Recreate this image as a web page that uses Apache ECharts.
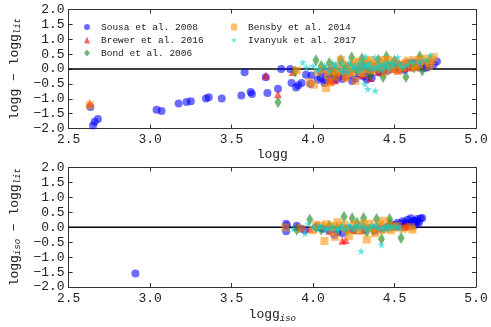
<!DOCTYPE html>
<html>
<head>
<meta charset="utf-8">
<script src="https://cdn.jsdelivr.net/npm/echarts@6/dist/echarts.min.js"></script>
<style>
  html, body { margin: 0; padding: 0; background: #fff; }
  #chart { width: 491px; height: 327px; }
</style>
</head>
<body>
<div id="chart"></div>
<script>
// [logg, logg - logg_lit]
const sousaTop = [[2.634,-1.28],[2.65,-1.90],[2.66,-1.77],[2.68,-1.68],[3.04,-1.37],[3.07,-1.41],[3.175,-1.16],[3.224,-1.11],[3.25,-1.08],[3.343,-0.99],[3.36,-0.95],[3.44,-0.99],[3.56,-0.89],[3.58,-0.11],[3.617,-0.77],[3.625,-0.84],[3.71,-0.28],[3.72,-0.81],[3.785,-0.66],[3.805,0.0],[3.86,0.0],[3.868,-0.47],[3.896,-0.62],[3.91,-0.55],[3.93,-0.47],[3.957,-0.19],[3.985,-0.5],[3.99,-0.22],[4.03,-0.36],[4.046,-0.29],[4.07,-0.47],[4.075,-0.36],[4.11,-0.29],[4.13,-0.25],[4.14,-0.35],[4.16,-0.25],[4.18,-0.34],[4.22,-0.2],[4.26,-0.33],[4.28,-0.15],[4.31,-0.25],[4.33,-0.1],[4.36,-0.3],[4.38,0.02],[4.41,-0.12],[4.44,0.05],[4.46,-0.05],[4.49,0.1],[4.52,0.15],[4.555,0.11],[4.58,0.2],[4.605,0.2],[4.63,0.22],[4.65,0.05],[4.67,0.18],[4.7,0.14],[4.72,0.2],[4.76,0.25],[4.05,-0.1],[4.12,-0.05],[4.2,0.0],[4.3,0.05],[4.4,-0.05],[4.5,0.05],[4.56,-0.03],[4.68,0.03],[4.24,-0.4],[4.33,-0.35],[4.09,-0.18],[4.19,-0.12],[4.35,-0.18],[4.43,-0.08],[4.53,0.0],[4.6,0.08],[4.64,0.14],[4.7,0.05],[4.74,0.15]];
const brewerTop = [[2.63,-1.15],[3.71,-0.22],[3.785,-0.85],[3.876,-0.1],[4.1,-0.38],[4.11,-0.42],[4.135,-0.38],[4.2,-0.25],[4.3,-0.2],[4.35,-0.3],[4.4,-0.1],[4.49,0.0],[4.56,0.03],[4.6,0.05],[4.25,0.0],[4.43,0.02],[4.16,-0.15],[4.52,-0.05],[4.64,0.1]];
const bondTop = [[3.785,-1.12],[3.89,-0.08],[4.018,0.29],[4.237,0.39],[4.3,0.35],[4.45,0.42],[4.655,0.42],[4.43,-0.27],[4.57,-0.27],[4.67,-0.05],[4.1,0.2],[4.17,0.3],[4.4,0.3],[4.5,0.28],[4.55,0.1],[4.62,0.05],[4.05,0.1],[4.2,0.05],[4.31,0.1],[4.35,-0.2],[4.38,0.05],[4.46,0.12],[4.27,-0.05],[4.13,-0.1]];
const bensbyTop = [[2.63,-1.22],[3.9,-0.05],[3.98,-0.45],[4.006,-0.53],[4.08,-0.64],[4.03,-0.1],[4.06,0.0],[4.09,-0.2],[4.1,-0.45],[4.12,0.1],[4.14,-0.25],[4.15,-0.05],[4.17,0.31],[4.18,0.15],[4.2,-0.3],[4.21,0.05],[4.22,-0.15],[4.25,0.2],[4.26,-0.4],[4.27,0.08],[4.29,-0.1],[4.3,0.2],[4.32,0.0],[4.33,0.25],[4.34,0.15],[4.35,0.3],[4.36,-0.05],[4.38,0.2],[4.4,0.25],[4.42,0.05],[4.44,-0.1],[4.45,0.2],[4.46,0.3],[4.47,0.1],[4.5,0.25],[4.52,-0.05],[4.54,0.15],[4.57,0.2],[4.6,0.1],[4.62,0.3],[4.65,0.15],[4.68,0.25],[4.7,0.35],[4.72,0.2],[4.73,0.3],[4.74,0.4],[4.11,-0.08],[4.16,0.05],[4.19,-0.05],[4.23,0.1],[4.24,-0.1],[4.28,0.25],[4.31,-0.15],[4.37,0.1],[4.39,-0.02],[4.41,0.15],[4.43,0.3],[4.48,0.0],[4.51,0.12],[4.55,0.05],[4.58,0.28],[4.63,0.05],[4.66,0.32],[4.71,0.1]];
const ivanyukTop = [[3.937,0.22],[4.336,-0.67],[4.382,-0.73],[4.318,-0.5],[4.72,0.45],[3.96,0.05],[4.0,0.1],[4.04,0.02],[4.07,0.12],[4.1,-0.05],[4.12,0.2],[4.13,0.08],[4.16,0.0],[4.18,-0.12],[4.19,0.1],[4.21,-0.08],[4.23,0.15],[4.24,0.0],[4.26,0.05],[4.27,-0.05],[4.28,0.18],[4.3,-0.02],[4.3,0.3],[4.31,0.12],[4.32,0.42],[4.33,0.05],[4.34,0.1],[4.35,0.2],[4.37,0.08],[4.38,0.4],[4.39,0.0],[4.4,0.3],[4.41,0.15],[4.42,-0.02],[4.43,0.1],[4.45,0.05],[4.46,0.22],[4.48,0.18],[4.5,0.12],[4.52,0.4],[4.53,0.2],[4.56,0.08],[4.6,0.25],[4.65,0.2],[4.7,0.3],[4.02,-0.05],[4.08,0.05],[4.14,0.15],[4.17,0.2],[4.2,0.02],[4.22,0.22],[4.25,0.12],[4.29,0.08],[4.32,0.2],[4.36,0.02],[4.4,0.1],[4.44,0.18],[4.47,0.05],[4.49,0.25],[4.54,0.1],[4.58,0.15],[4.62,0.22],[4.67,0.28]];

// [logg_iso, logg_iso - logg_lit]
const sousaBot = [[2.91,-1.55],[3.835,0.12],[3.835,-0.13],[3.84,0.05],[3.9,0.05],[3.93,-0.05],[3.95,-0.1],[4.02,0.0],[4.1,-0.1],[4.13,-0.25],[4.15,-0.15],[4.18,-0.2],[4.25,-0.1],[4.32,-0.05],[4.38,-0.12],[4.42,-0.05],[4.45,0.0],[4.47,0.03],[4.48,0.1],[4.5,0.05],[4.52,0.15],[4.53,0.03],[4.54,0.1],[4.55,0.2],[4.56,0.05],[4.57,0.12],[4.58,0.25],[4.59,0.05],[4.6,0.3],[4.6,0.12],[4.61,0.18],[4.62,0.22],[4.63,0.1],[4.63,0.2],[4.64,0.28],[4.65,0.15],[4.66,0.29],[4.67,0.31],[4.51,0.08],[4.56,0.15],[4.58,0.1],[4.62,0.05],[4.64,0.18],[4.49,0.02],[4.06,-0.05],[4.22,-0.05]];
const brewerBot = [[4.2,-0.43],[4.18,-0.45],[3.98,-0.05],[4.56,0.01],[4.58,0.05],[4.3,-0.1],[4.4,0.0],[4.5,0.02],[4.1,-0.12],[3.9,0.02],[4.57,0.06],[4.25,-0.08]];
const bondBot = [[3.98,0.26],[3.9,-0.08],[4.19,0.35],[4.24,0.3],[4.31,0.31],[4.39,0.28],[4.47,0.28],[4.54,-0.36],[4.42,-0.39],[4.1,0.05],[4.15,-0.05],[4.33,-0.15],[4.27,0.15],[4.05,-0.08],[4.47,0.1],[4.02,0.0],[4.37,-0.1],[4.21,-0.12]];
const bensbyBot = [[3.83,0.0],[4.07,-0.46],[3.93,-0.05],[4.0,-0.1],[4.02,0.08],[4.05,0.05],[4.1,0.0],[4.12,-0.15],[4.135,-0.32],[4.15,0.17],[4.17,0.02],[4.2,-0.05],[4.22,-0.3],[4.25,0.1],[4.27,0.0],[4.28,-0.12],[4.3,0.05],[4.33,-0.41],[4.33,-0.02],[4.35,0.12],[4.38,-0.2],[4.4,0.02],[4.42,-0.1],[4.43,0.22],[4.45,-0.05],[4.47,0.08],[4.5,0.0],[4.52,0.05],[4.55,-0.05],[4.6,0.0],[4.61,-0.08],[4.08,0.1],[4.13,0.05],[4.19,0.08],[4.23,-0.08],[4.31,0.12],[4.36,-0.05],[4.41,0.1],[4.48,-0.1]];
const ivanyukBot = [[4.295,-0.8],[4.42,-0.58],[3.97,0.12],[3.88,-0.05],[3.95,-0.2],[4.0,0.0],[4.03,-0.05],[4.06,0.02],[4.08,-0.1],[4.09,-0.03],[4.12,0.03],[4.15,-0.02],[4.15,-0.1],[4.18,0.05],[4.2,-0.05],[4.22,0.08],[4.23,0.0],[4.26,0.04],[4.29,-0.04],[4.3,0.1],[4.32,0.02],[4.35,-0.03],[4.36,0.07],[4.38,0.03],[4.41,-0.02],[4.44,0.02],[4.47,-0.04],[4.48,0.05],[4.5,0.0],[4.53,-0.03],[4.04,0.05],[4.11,-0.06],[4.17,-0.02],[4.25,-0.06],[4.27,0.06],[4.33,-0.07],[4.39,0.06],[4.43,-0.06],[4.46,0.04],[4.52,0.03]];

const xTicks = [2.5, 5.0, 0.5];
const yTicks = [-2.0, 2.0, 0.5];

const FONT = 'Liberation Mono';
const STAR = 'path://M50,0 L61,35 L98,35 L68,57 L79,91 L50,70 L21,91 L32,57 L2,35 L39,35 Z';

const styles = [
  { name: 'Sousa et al. 2008', symbol: 'circle', size: 8, color: 'rgba(0,0,255,0.72)' },
  { name: 'Brewer et al. 2016', symbol: 'triangle', size: 8, color: 'rgba(255,0,0,0.75)' },
  { name: 'Bond et al. 2006', symbol: 'diamond', size: [7, 12], color: 'rgba(34,139,34,0.8)' },
  { name: 'Bensby et al. 2014', symbol: 'rect', size: 8, color: 'rgba(255,140,0,0.7)' },
  { name: 'Ivanyuk et al. 2017', symbol: STAR, size: 8, color: 'rgba(0,206,209,0.75)' }
];
const topData = [sousaTop, brewerTop, bondTop, bensbyTop, ivanyukTop];
const botData = [sousaBot, brewerBot, bondBot, bensbyBot, ivanyukBot];

const fmt = v => v.toFixed(1).replace('-', '\u2212');

const frame = { show: true, onZero: false, lineStyle: { color: '#333', width: 1 } };
const ticks = { show: true, inside: true, length: 4, lineStyle: { color: '#333' } };

function xAxis(grid, pos, labels, name) {
  return {
    type: 'value', gridIndex: grid, position: pos,
    min: xTicks[0], max: xTicks[1], interval: xTicks[2],
    axisLine: frame, axisTick: ticks, splitLine: { show: false },
    axisLabel: { show: labels, formatter: fmt, fontFamily: FONT, fontSize: 13, color: '#222', margin: 5 },
    name: name || '', nameLocation: 'middle', nameGap: 20,
    nameTextStyle: {
      fontFamily: FONT, fontSize: 13, color: '#222',
      rich: { sub: { fontFamily: FONT, fontSize: 9, fontStyle: 'italic', color: '#222', padding: [7, 0, 0, 0] } }
    }
  };
}
function yAxis(grid, pos, labels, name) {
  return {
    type: 'value', gridIndex: grid, position: pos,
    min: yTicks[0], max: yTicks[1], interval: yTicks[2],
    axisLine: frame, axisTick: ticks, splitLine: { show: false },
    axisLabel: { show: labels, formatter: fmt, fontFamily: FONT, fontSize: 13, color: '#222', margin: 4 },
    name: name || '', nameLocation: 'middle', nameGap: 43, nameRotate: 90,
    nameTextStyle: {
      fontFamily: FONT, fontSize: 13, color: '#222',
      rich: { sub: { fontFamily: FONT, fontSize: 9, fontStyle: 'italic', color: '#222', padding: [7, 0, 0, 0] } }
    }
  };
}

const series = [];
[topData, botData].forEach((set, g) => {
  series.push({
    type: 'line', xAxisIndex: g * 2, yAxisIndex: g * 2, silent: true, z: 1,
    symbol: 'none', data: [[xTicks[0], 0], [xTicks[1], 0]],
    lineStyle: { color: '#000', width: 1.5 }
  });
  set.forEach((d, i) => {
    series.push({
      name: styles[i].name, type: 'scatter', xAxisIndex: g * 2, yAxisIndex: g * 2,
      symbol: styles[i].symbol, symbolSize: styles[i].size, z: 2 + i,
      itemStyle: { color: styles[i].color },
      data: d
    });
  });
});

const legendCommon = {
  orient: 'vertical', itemWidth: 6, itemHeight: 7, itemGap: 0,
  textStyle: { fontFamily: FONT, fontSize: 9.5, color: '#222', lineHeight: 13, padding: [0, 0, 0, 6] },
  selectedMode: false
};

const chart = echarts.init(document.getElementById('chart'));
chart.setOption({
  animation: false,
  backgroundColor: '#fff',
  grid: [
    { left: 63.5, right: 15, top: 9.5, height: 119 },
    { left: 63.5, right: 15, top: 167.5, height: 119.5 }
  ],
  xAxis: [
    xAxis(0, 'bottom', true, 'logg'),
    xAxis(0, 'top', false),
    xAxis(1, 'bottom', true, 'logg{sub|iso}'),
    xAxis(1, 'top', false)
  ],
  yAxis: [
    yAxis(0, 'left', true, 'logg \u2212 logg{sub|lit}'),
    yAxis(0, 'right', false),
    yAxis(1, 'left', true, 'logg{sub|iso} \u2212 logg{sub|lit}'),
    yAxis(1, 'right', false)
  ],
  legend: [
    Object.assign({ left: 79, top: 15.5, data: styles.slice(0, 3).map(s => s.name) }, legendCommon),
    Object.assign({ left: 226, top: 15.5, data: styles.slice(3).map(s => s.name) }, legendCommon)
  ],
  series: series
});
</script>
</body>
</html>
